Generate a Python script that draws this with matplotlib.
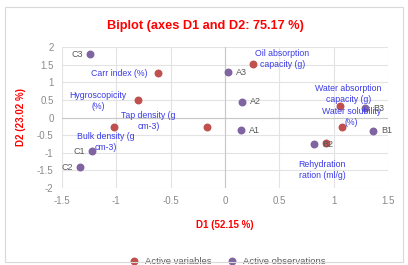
import matplotlib
matplotlib.use("Agg")
import matplotlib.pyplot as plt
from matplotlib.patches import Rectangle

plt.rcParams["font.family"] = ["Liberation Sans", "DejaVu Sans"]

# active variables (D1, D2)
var_names = ["Oil absorption\ncapacity (g)", "Carr index (%)", "Hygroscopicity\n(%)",
             "Bulk density (g\ncm-3)", "Tap density (g\ncm-3)",
             "Water absorption\ncapacity (g)", "Water solubility\n(%)",
             "Rehydration\nration (ml/g)"]
var_d1 = [0.26, -0.62, -0.80, -1.02, -0.17, 1.06, 1.08, 0.93]
var_d2 = [1.52, 1.26, 0.49, -0.27, -0.27, 0.33, -0.27, -0.72]

# active observations (D1, D2)
obs_names = ["C3", "A3", "A2", "A1", "B3", "B1", "B2", "C1", "C2"]
obs_d1 = [-1.24, 0.03, 0.16, 0.15, 1.29, 1.36, 0.82, -1.22, -1.33]
obs_d2 = [1.80, 1.29, 0.45, -0.36, 0.26, -0.38, -0.76, -0.96, -1.41]

x_ticks = [-1.5, -1, -0.5, 0, 0.5, 1, 1.5]
y_ticks = [-2, -1.5, -1, -0.5, 0, 0.5, 1, 1.5, 2]

# label offsets in pixels
var_offsets = [(29, 5), (-38, 0), (-40, -1), (-8, -15), (-58, 6), (8, 12), (9, 10), (-4, -27)]
obs_offsets = [(-7, 0), (8, 0), (8, 0), (8, 0), (8, 0), (8, 0), (8, 0), (-7, 0), (-7, 0)]

red = "#C0504D"
purple = "#8064A2"
blue = "#3B3BE8"
grey_txt = "#8A8A8A"

fig = plt.figure(figsize=(4.08, 2.65), dpi=100)
fig.patches.append(Rectangle((5 / 408, 3 / 265), 398 / 408, 255 / 265, transform=fig.transFigure,
                             fill=False, edgecolor="#D9D9D9", linewidth=0.8))
ax = fig.add_axes([62 / 408, 1 - 188 / 265, 326 / 408, 141 / 265])

ax.set_xlim(-1.5, 1.5)
ax.set_ylim(-2, 2)
ax.set_xticks(x_ticks)
ax.set_yticks(y_ticks)
ax.set_xticklabels([f"{t:g}" for t in x_ticks])
ax.set_yticklabels([f"{t:g}" for t in y_ticks])
ax.grid(True, color="#E3E3E3", linewidth=0.8)
ax.axvline(0, color="#C8C8C8", linewidth=0.8, zorder=1)
ax.axhline(0, color="#C8C8C8", linewidth=0.8, zorder=1)
ax.set_axisbelow(True)
for s in ax.spines.values():
    s.set_visible(False)
ax.tick_params(length=0, labelsize=7, colors=grey_txt, pad=6)

ax.scatter(var_d1, var_d2, s=22, color=red, zorder=3, label="Active variables")
ax.scatter(obs_d1, obs_d2, s=22, color=purple, zorder=3, label="Active observations")

for name, x, y, off in zip(var_names, var_d1, var_d2, var_offsets):
    ax.annotate(name, (x, y), xytext=off, textcoords="offset pixels", ha="center", va="center",
                fontsize=6.3, color=blue, linespacing=1.25, zorder=4)
for name, x, y, off in zip(obs_names, obs_d1, obs_d2, obs_offsets):
    ax.annotate(name, (x, y), xytext=off, textcoords="offset pixels",
                ha="left" if off[0] > 0 else "right", va="center",
                fontsize=6.5, color="#595959", zorder=4)

fig.text(205 / 408, 1 - 26 / 265, "Biplot (axes D1 and D2: 75.17 %)", ha="center", va="center",
         fontsize=9.2, fontweight="bold", color="#FF0000")
ax.set_xlabel("D1 (52.15 %)", fontsize=7, fontweight="bold", color="#FF0000", labelpad=10)
ax.set_ylabel("D2 (23.02 %)", fontsize=7, fontweight="bold", color="#FF0000", labelpad=8)

ax.legend(loc="center", bbox_to_anchor=(0.5, -0.52), ncol=2, frameon=False, fontsize=6.8,
          handletextpad=0.1, columnspacing=1.2, markerscale=1.0, labelcolor="#595959")

fig.savefig("out.png", dpi=100)
